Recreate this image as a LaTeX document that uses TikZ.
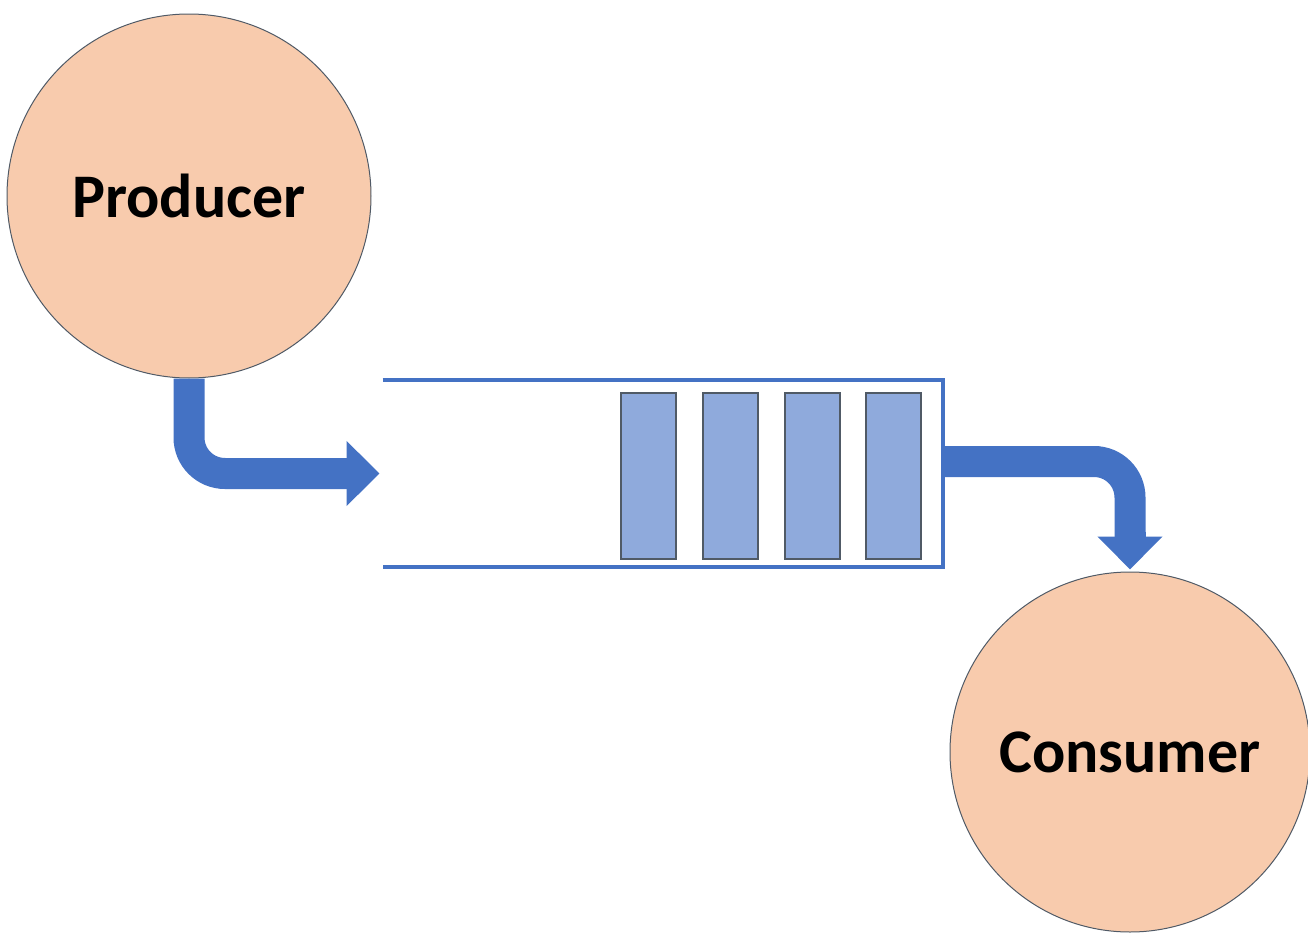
\documentclass[tikz,border=0pt]{standalone}
\usepackage{fontspec}
\setmainfont{Carlito}
\usetikzlibrary{arrows.meta}
\definecolor{peach}{HTML}{F8CBAD}
\definecolor{flowblue}{HTML}{4472C4}
\definecolor{slotblue}{HTML}{8FAADC}
\definecolor{rimgray}{HTML}{505A66}
\tikzset{
  actor/.style={circle, draw=rimgray, line width=0.5pt, fill=peach, minimum size=182pt,
    inner sep=0pt, font=\bfseries\fontsize{31}{37}\selectfont},
  flow/.style={flowblue, line width=15.5pt, rounded corners=18pt},
  flowtip/.style={flowblue, line width=15.5pt, -{Triangle[length=16.5pt,width=31.5pt]}},
  slot/.style={draw=rimgray, line width=0.75pt, fill=slotblue,
    minimum width=27.5pt, minimum height=83pt, inner sep=0pt},
}
\begin{document}
\begin{tikzpicture}[x=0.5pt,y=-0.5pt]
\useasboundingbox (0,0) rectangle (1308,937);

\node[actor] (producer) at (189,196) {Producer};
\node[actor, minimum size=180pt] (consumer) at (1130,752) {Consumer};

% queue, open on the left side
\node[minimum width=280pt, minimum height=93.5pt, inner sep=0pt] (queue) at (663,473.5) {};
\draw[flowblue, line width=2pt] (queue.north west) -- (queue.north east)
  -- (queue.south east) -- (queue.south west);

% items waiting in the queue
\foreach \i/\x in {1/648.5, 2/730.5, 3/812.5, 4/893.5}
  \node[slot] (slot\i) at (\x,476) {};

% bent shafts, then the heads drawn without rounded corners
\draw[flow] (producer.south) |- ([xshift=-17pt]queue.west); % in
\draw[flowtip] ([xshift=-20pt]queue.west) -- ([xshift=-1.5pt]queue.west);
\draw[flow] ([yshift=6pt]queue.east) -| ([yshift=17pt]consumer.north); % out
\draw[flowtip] ([yshift=20pt]consumer.north) -- ([yshift=1pt]consumer.north);

\end{tikzpicture}
\end{document}
